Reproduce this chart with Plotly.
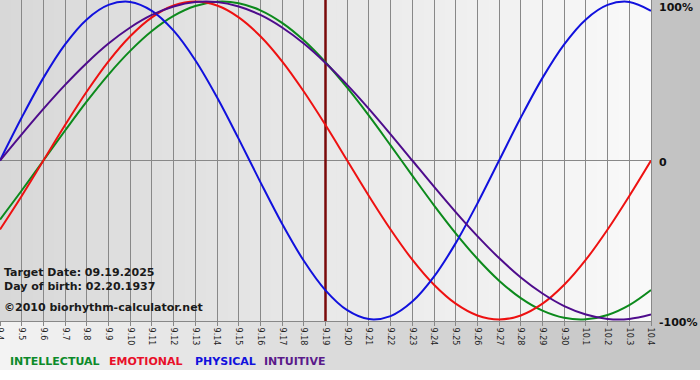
import plotly.graph_objects as go

# ---- data ----
dates = ["9.4", "9.5", "9.6", "9.7", "9.8", "9.9", "9.10", "9.11", "9.12", "9.13",
         "9.14", "9.15", "9.16", "9.17", "9.18", "9.19", "9.20", "9.21", "9.22", "9.23",
         "9.24", "9.25", "9.26", "9.27", "9.28", "9.29", "9.30", "10.1", "10.2", "10.3", "10.4"]

intellectual = [-0.372, -0.189, 0.0, 0.189, 0.372, 0.541, 0.690, 0.815, 0.910, 0.972,
                0.999, 0.990, 0.945, 0.866, 0.756, 0.618, 0.458, 0.282, 0.095, -0.095,
                -0.282, -0.458, -0.618, -0.756, -0.866, -0.945, -0.990, -0.999, -0.972, -0.910, -0.815]

emotional = [-0.434, -0.223, 0.0, 0.223, 0.434, 0.624, 0.782, 0.901, 0.975, 1.0,
             0.975, 0.901, 0.782, 0.624, 0.434, 0.223, 0.0, -0.223, -0.434, -0.624,
             -0.782, -0.901, -0.975, -1.0, -0.975, -0.901, -0.782, -0.624, -0.434, -0.223, 0.0]

physical = [0.0, 0.270, 0.520, 0.731, 0.888, 0.979, 0.998, 0.942, 0.817, 0.631,
            0.398, 0.136, -0.136, -0.398, -0.631, -0.817, -0.942, -0.998, -0.979, -0.888,
            -0.731, -0.520, -0.270, 0.0, 0.270, 0.520, 0.731, 0.888, 0.979, 0.998, 0.942]

intuitive = [0.0, 0.165, 0.325, 0.476, 0.614, 0.736, 0.837, 0.916, 0.969, 0.997,
             0.997, 0.969, 0.916, 0.837, 0.736, 0.614, 0.476, 0.325, 0.165, 0.0,
             -0.165, -0.325, -0.476, -0.614, -0.736, -0.837, -0.916, -0.969, -0.997, -0.997, -0.969]

series_names = ["INTELLECTUAL", "EMOTIONAL", "PHYSICAL", "INTUITIVE"]
series_colors = ["#0c8a1c", "#ee1111", "#1111dd", "#4e0c8c"]
legend_colors = ["#0c8a2a", "#e8102a", "#1111dd", "#5a1a8a"]
target_label = "9.19"
info_lines = ["Target Date: 09.19.2025", "Day of birth: 02.20.1937", "\u00a92010 biorhythm-calculator.net"]
y_tick_vals = [1, 0, -1]
y_tick_text = ["100%", "0", "-100%"]

# ---- geometry ----
W, H = 700, 380
L, R, T, B = 0, 49, 0, 59
PW, PH = W - L - R, H - T - B


def px_to_paper_x(px):
    return (px - L) / PW


def px_to_paper_y(py):
    return (H - B - py) / PH


def grey(v):
    v = int(round(v))
    return "rgb(%d,%d,%d)" % (v, v, v)


shapes = []
# outer background gradient (light left -> darker right), down to y=370
n_out = 70
for i in range(n_out):
    x0 = i * W / n_out
    x1 = (i + 1) * W / n_out + 0.8
    c = 0xf3 + (0xc1 - 0xf3) * (i + 0.5) / n_out
    shapes.append(dict(type="rect", xref="paper", yref="paper",
                       x0=px_to_paper_x(x0), x1=px_to_paper_x(x1),
                       y0=px_to_paper_y(370), y1=px_to_paper_y(0),
                       fillcolor=grey(c), line=dict(width=0), layer="below"))
# plot-area gradient (darker left -> lighter right)
n_in = 60
for i in range(n_in):
    x0 = i * PW / n_in
    x1 = (i + 1) * PW / n_in + 0.8
    c = 0xd8 + (0xf9 - 0xd8) * (i + 0.5) / n_in
    shapes.append(dict(type="rect", xref="paper", yref="paper",
                       x0=px_to_paper_x(x0), x1=min(1.0, px_to_paper_x(x1)),
                       y0=0, y1=1,
                       fillcolor=grey(c), line=dict(width=0), layer="below"))

fig = go.Figure()

# target date line
fig.add_trace(go.Scatter(x=[target_label, target_label], y=[-1.2, 1.2], mode="lines",
                         line=dict(color="#7a0a0a", width=2.5), showlegend=False,
                         hoverinfo="skip"))

for name, vals, col in zip(series_names, [intellectual, emotional, physical, intuitive], series_colors):
    fig.add_trace(go.Scatter(x=dates, y=vals, mode="lines", name=name,
                             line=dict(color=col, width=2, shape="spline", smoothing=1.0),
                             showlegend=False))

annotations = []
# info text
for txt, py in zip(info_lines, [272, 286, 307]):
    annotations.append(dict(text=txt, xref="paper", yref="paper",
                            x=px_to_paper_x(2), y=px_to_paper_y(py),
                            xanchor="left", yanchor="middle", showarrow=False,
                            font=dict(family="DejaVu Sans", size=11, color="#1a1a1a", weight="bold")))
# right axis labels
for v, t, ys in zip(y_tick_vals, y_tick_text, [-5.5, -1.5, -3.5]):
    annotations.append(dict(text=t, xref="paper", yref="y", x=px_to_paper_x(657), y=v,
                            yshift=ys, xanchor="left", yanchor="middle", showarrow=False,
                            font=dict(family="DejaVu Sans", size=11, color="#111111", weight="bold")))
# legend words
for name, col, pxx in zip(series_names, legend_colors, [8, 107, 193, 262]):
    annotations.append(dict(text=name, xref="paper", yref="paper",
                            x=px_to_paper_x(pxx), y=px_to_paper_y(362),
                            xanchor="left", yanchor="middle", showarrow=False,
                            font=dict(family="DejaVu Sans", size=11, color=col, weight="bold")))

fig.update_layout(
    width=W, height=H,
    margin=dict(l=L, r=R, t=T, b=B, pad=0, autoexpand=False),
    paper_bgcolor="white",
    plot_bgcolor="rgba(0,0,0,0)",
    shapes=shapes,
    annotations=annotations,
    showlegend=False,
    xaxis=dict(type="category", categoryorder="array", categoryarray=dates,
               range=[0, len(dates) - 1], showgrid=True, gridcolor="#888888", gridwidth=1,
               showline=True, linecolor="#888888", linewidth=1, mirror=True,
               ticks="outside", ticklen=4, tickcolor="#888888", tickangle=90,
               tickfont=dict(family="DejaVu Sans", size=8, color="#222222"),
               zeroline=False, fixedrange=True, automargin=False),
    yaxis=dict(range=[-1.01, 1.01], showgrid=False, zeroline=True, zerolinecolor="#888888",
               zerolinewidth=1, showticklabels=False, ticks="", showline=True,
               linecolor="#888888", mirror=True, fixedrange=True, automargin=False),
)

fig.write_html("out.html",
               config={"displayModeBar": False},
               post_script="document.body.style.margin='0';document.body.style.overflow='hidden';")
